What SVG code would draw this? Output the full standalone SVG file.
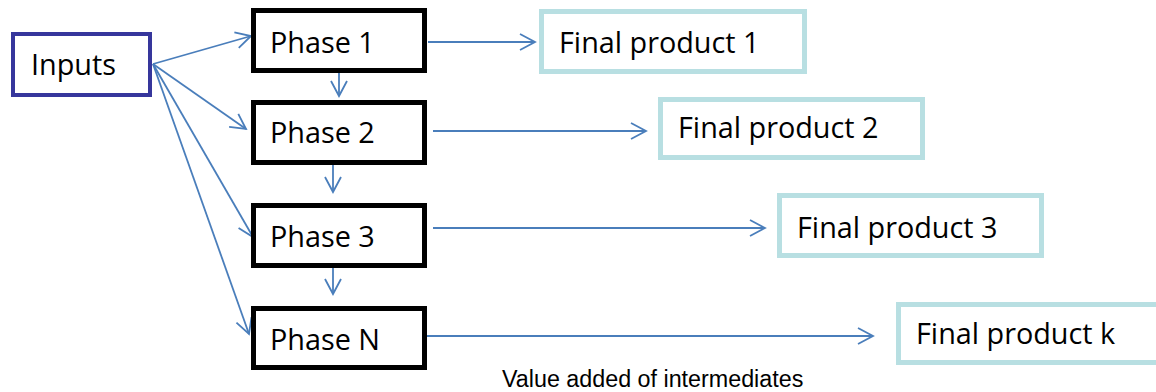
<svg xmlns="http://www.w3.org/2000/svg" width="1156" height="392" viewBox="0 0 1156 392">
  <defs>
    <marker id="open-arrow" markerUnits="userSpaceOnUse" markerWidth="20" markerHeight="20" viewBox="-16 -10 20 20" refX="0" refY="0" orient="auto">
      <path d="M-15,-8 L0,0 L-15,8" fill="none" stroke="#4a7ebb" stroke-width="1.8"/>
    </marker>
  </defs>
  <style>
    .label { font-family: "Open Sans", "Noto Sans", "Liberation Sans", sans-serif; font-size: 28.8px; fill: #000; }
    .caption { font-family: "Liberation Sans", Arial, sans-serif; font-size: 23.3px; fill: #000; }
    .input-box { fill: #fff; stroke: #36369c; stroke-width: 4; }
    .phase-box { fill: #fff; stroke: #000; stroke-width: 5; }
    .product-box { fill: #fff; stroke: #b8dfe2; stroke-width: 5; }
    .link { fill: none; stroke: #4a7ebb; stroke-width: 1.8; marker-end: url(#open-arrow); }
  </style>

  <rect width="1156" height="392" fill="#fff"/>

  <!-- connectors -->
  <g id="connectors">
    <line class="link" x1="153" y1="64" x2="251" y2="36"/>
    <line class="link" x1="153" y1="64" x2="246" y2="129"/>
    <line class="link" x1="153" y1="64" x2="253" y2="237"/>
    <line class="link" x1="153" y1="64" x2="249" y2="334"/>
    <line class="link" x1="339" y1="73" x2="339" y2="96"/>
    <line class="link" x1="333" y1="165" x2="333" y2="192"/>
    <line class="link" x1="333" y1="268" x2="333" y2="294"/>
    <line class="link" x1="428" y1="42" x2="535" y2="42"/>
    <line class="link" x1="433" y1="131" x2="646" y2="131"/>
    <line class="link" x1="433" y1="228" x2="765" y2="228"/>
    <line class="link" x1="424" y1="336" x2="873" y2="336"/>
  </g>

  <!-- source -->
  <g id="inputs">
    <rect class="input-box" x="13" y="34" width="137" height="61"/>
    <text class="label" x="31" y="75">Inputs</text>
  </g>

  <!-- production phases -->
  <g id="phase-1">
    <rect class="phase-box" x="253.5" y="10.5" width="171" height="60"/>
    <text class="label" x="270" y="53">Phase 1</text>
  </g>
  <g id="phase-2">
    <rect class="phase-box" x="253.5" y="102.5" width="171" height="60"/>
    <text class="label" x="270" y="143">Phase 2</text>
  </g>
  <g id="phase-3">
    <rect class="phase-box" x="253.5" y="205.5" width="171" height="60"/>
    <text class="label" x="270" y="247">Phase 3</text>
  </g>
  <g id="phase-n">
    <rect class="phase-box" x="253.5" y="308.5" width="171" height="59"/>
    <text class="label" x="270" y="350">Phase N</text>
  </g>

  <!-- final products -->
  <g id="final-product-1">
    <rect class="product-box" x="541.5" y="11.5" width="263" height="60"/>
    <text class="label" x="559" y="53">Final product 1</text>
  </g>
  <g id="final-product-2">
    <rect class="product-box" x="660.5" y="99.5" width="262" height="58"/>
    <text class="label" x="678" y="138">Final product 2</text>
  </g>
  <g id="final-product-3">
    <rect class="product-box" x="779.5" y="195.5" width="262" height="60"/>
    <text class="label" x="797" y="238">Final product 3</text>
  </g>
  <g id="final-product-k">
    <rect class="product-box" x="898.5" y="304.5" width="262" height="58"/>
    <text class="label" x="916" y="344">Final product k</text>
  </g>

  <text class="caption" x="502" y="387">Value added of intermediates</text>
</svg>
